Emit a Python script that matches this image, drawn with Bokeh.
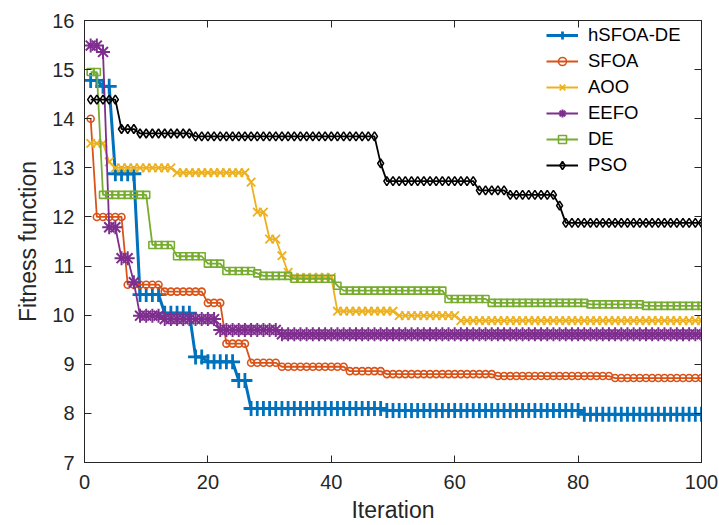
from bokeh.plotting import figure
from bokeh.models import (Range1d, LinearAxis, FixedTicker, Legend, LegendItem,
                          CustomLabelingPolicy)
from bokeh.embed import file_html
from bokeh.resources import INLINE

iterations = list(range(1, 101))

hsfoa_de = ([14.78] * 2 + [14.66] * 2 + [12.88] * 4 + [10.42] * 4 + [10.04] * 5 +
            [9.15] * 2 + [9.05] * 5 + [8.67] * 2 + [8.10] * 22 + [8.06] * 32 + [7.98] * 20)
sfoa = ([14.0] + [12.0] * 5 + [10.62] * 6 + [10.48] * 7 + [10.25] * 3 + [9.42] * 4 +
        [9.03] * 5 + [8.95] * 11 + [8.86] * 6 + [8.80] * 18 + [8.76] * 19 + [8.72] * 15)
aoo = ([13.5] * 3 + [13.12] + [13.0] * 10 + [12.90] * 12 + [12.71] + [12.10] * 2 +
       [11.55] * 2 + [11.21] + [10.87] + [10.77] * 7 + [10.08] * 10 + [9.99] * 10 + [9.89] * 40)
eefo = ([15.49] * 2 + [15.36] + [11.79] * 2 + [11.16] * 2 + [10.67] + [9.99] * 4 +
        [9.92] * 9 + [9.70] * 10 + [9.61] * 69)
de = ([14.95] * 2 + [12.45] * 8 + [11.43] * 4 + [11.20] * 5 + [11.05] * 3 + [10.90] * 5 +
      [10.85] + [10.80] * 5 + [10.74] * 7 + [10.60] + [10.50] * 17 + [10.33] * 7 +
      [10.25] * 16 + [10.22] * 9 + [10.19] * 10)
pso = ([14.39] * 5 + [13.79] * 3 + [13.70] * 9 + [13.64] * 30 + [13.09] + [12.73] * 15 +
       [12.54] * 5 + [12.45] * 8 + [12.23] + [11.88] * 23)

names = ["hSFOA-DE", "SFOA", "AOO", "EEFO", "DE", "PSO"]
series = [hsfoa_de, sfoa, aoo, eefo, de, pso]
colors = ["#0072BD", "#D95319", "#EDB120", "#7E2F8E", "#77AC30", "#000000"]
markers = ["cross", "circle", "x", "asterisk", "square", "diamond"]
msizes = [15, 7, 12, 14, 7, 9]
lwidths = [3.0, 1.8, 1.8, 1.8, 1.8, 1.8]
mwidths = [2.8, 1.6, 1.8, 2.0, 1.6, 1.6]

x_ticks = [0, 20, 40, 60, 80, 100]
y_ticks = [7, 8, 9, 10, 11, 12, 13, 14, 15, 16]

FONT = "Liberation Sans"
AX = "#262626"

p = figure(width=719, height=525, output_backend="svg", toolbar_location=None,
           x_range=Range1d(0, 100), y_range=Range1d(7, 16),
           min_border_left=84, min_border_right=18, min_border_top=20, min_border_bottom=63)
p.grid.visible = False
p.outline_line_color = AX
p.background_fill_color = "white"
p.border_fill_color = "white"

items = []
for name, ys, c, m, ms, lw, mw in zip(names, series, colors, markers, msizes, lwidths, mwidths):
    lr = p.line(iterations, ys, line_color=c, line_width=lw)
    sr = p.scatter(iterations, ys, marker=m, size=ms, line_color=c, fill_color=None, line_width=mw)
    items.append(LegendItem(label=name, renderers=[lr, sr]))


def style(ax, labels=True):
    ax.major_tick_in = 7
    ax.major_tick_out = 0
    ax.minor_tick_in = 0
    ax.minor_tick_out = 0
    ax.axis_line_color = AX
    ax.major_tick_line_color = AX
    ax.major_label_text_font = FONT
    ax.major_label_text_color = AX
    ax.axis_label_text_font = FONT
    ax.axis_label_text_color = AX
    ax.axis_label_text_font_style = "normal"
    if labels:
        ax.major_label_text_font_size = "20px"
        ax.axis_label_text_font_size = "23px"
    else:
        ax.major_label_policy = CustomLabelingPolicy(code="return []")
        ax.major_label_standoff = 0


p.xaxis.ticker = FixedTicker(ticks=x_ticks)
p.yaxis.ticker = FixedTicker(ticks=y_ticks)
style(p.xaxis[0])
style(p.yaxis[0])
p.xaxis.axis_label = "Iteration"
p.yaxis.axis_label = "Fitness function"
p.xaxis.major_label_standoff = 12
p.xaxis.axis_label_standoff = 5
p.yaxis.major_label_standoff = 10
p.yaxis.axis_label_standoff = 8

top_ax = LinearAxis(ticker=FixedTicker(ticks=x_ticks))
style(top_ax, labels=False)
p.add_layout(top_ax, "above")
right_ax = LinearAxis(ticker=FixedTicker(ticks=y_ticks))
style(right_ax, labels=False)
p.add_layout(right_ax, "right")

legend = Legend(items=items, location=(462, 286))
legend.label_text_font = FONT
legend.label_text_font_size = "18.5px"
legend.label_text_color = "#000000"
legend.glyph_width = 32
legend.glyph_height = 20
legend.label_height = 20
legend.spacing = 4
legend.padding = 5
legend.margin = 0
legend.label_standoff = 10
legend.border_line_color = None
legend.background_fill_alpha = 0
p.add_layout(legend, "center")

open("out.html", "w").write(file_html(p, INLINE))
